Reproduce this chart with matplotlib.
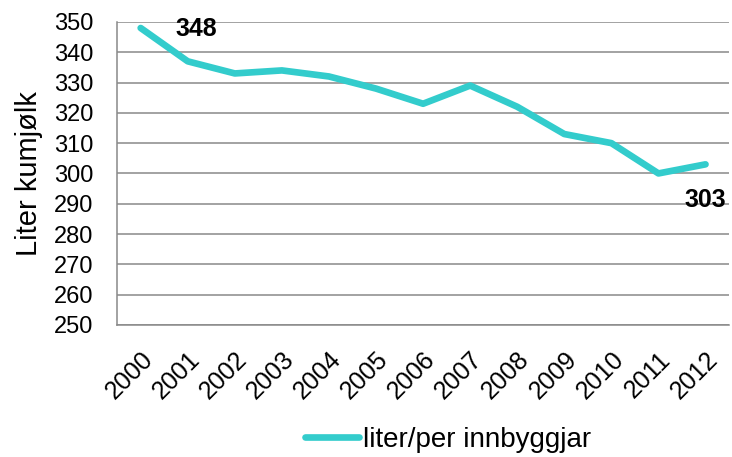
import matplotlib
matplotlib.use("Agg")
import matplotlib.pyplot as plt

plt.rcParams['font.family'] = ['Liberation Sans', 'DejaVu Sans']

years = ['2000', '2001', '2002', '2003', '2004', '2005', '2006',
         '2007', '2008', '2009', '2010', '2011', '2012']
liter = [348, 337, 333, 334, 332, 328, 323, 329, 322, 313, 310, 300, 303]
yticks = list(range(250, 351, 10))

fig = plt.figure(figsize=(7.32, 4.57), dpi=100)
ax = fig.add_axes([0.160, 0.289, 0.836, 0.663])

x = list(range(len(years)))
ax.plot(x, liter, color='#33CCCC', lw=4.8, solid_capstyle='round',
        label='liter/per innbyggjar', zorder=3)

ax.set_xlim(-0.5, len(years) - 0.5)
ax.set_ylim(250, 350)
ax.set_yticks(yticks)
ax.set_xticks(x)
ax.set_xticklabels(years, rotation=45, ha='right', rotation_mode='anchor')
ax.tick_params(axis='y', length=0, labelsize=17, pad=17)
ax.tick_params(axis='x', length=0, labelsize=18, pad=16)

ax.grid(axis='y', color='#898989', lw=1.1)
ax.set_axisbelow(True)
for s in ['top', 'right']:
    ax.spines[s].set_visible(False)
for s in ['left', 'bottom']:
    ax.spines[s].set_color('#898989')
    ax.spines[s].set_linewidth(1.1)

ax.set_ylabel('Liter kumjølk', fontsize=21, labelpad=8)

ax.annotate(str(liter[0]), (x[0], liter[0]), xytext=(25, -1),
            textcoords='offset points', fontsize=18, fontweight='bold',
            va='center', ha='left')
ax.annotate(str(liter[-1]), (x[-1], liter[-1]), xytext=(0, -26),
            textcoords='offset points', fontsize=18, fontweight='bold',
            va='center', ha='center')

fig.legend(loc='center', bbox_to_anchor=(0.612, 0.037), frameon=False,
           fontsize=20, handlelength=1.95, handletextpad=0.15)

fig.savefig('out.png', dpi=100)
